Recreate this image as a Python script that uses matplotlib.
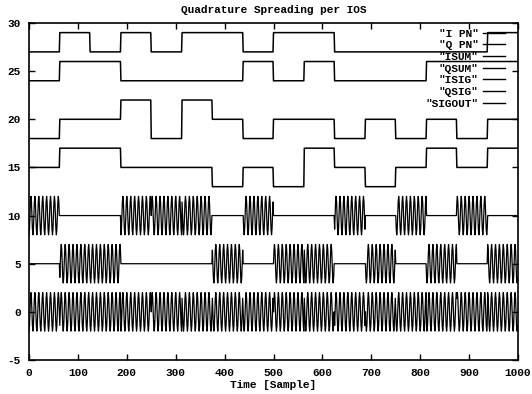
import numpy as np
import matplotlib
matplotlib.use("Agg")
import matplotlib.pyplot as plt

# ---- data ----
n_samples = 1000
chip_len = 62.5          # samples per chip (16 chips over 1000 samples)
carrier_period = 8       # samples per carrier cycle

i_pn  = [-1, 1, -1, 1, -1, 1, 1, -1, 1, 1, -1, -1, -1, -1, -1, 1]
q_pn  = [-1, 1, 1, -1, -1, -1, -1, 1, -1, 1, -1, -1, -1, 1, 1, 1]
i_sum = [-2, 0, 0, 2, -2, 2, 0, -2, 0, 0, -2, 0, -2, 0, -2, 0]
q_sum = [0, 2, 2, 0, 0, 0, -2, 0, -2, 2, 0, -2, 0, 2, 0, 2]

offsets = {"I PN": 28, "Q PN": 25, "ISUM": 20, "QSUM": 15,
           "ISIG": 10, "QSIG": 5, "SIGOUT": 0}

x_ticks = [0, 100, 200, 300, 400, 500, 600, 700, 800, 900, 1000]
y_ticks = [-5, 0, 5, 10, 15, 20, 25, 30]

# ---- build sample series ----
t = np.arange(n_samples)
chip = np.minimum((t // chip_len).astype(int), len(i_pn) - 1)
ipn_s = np.array(i_pn)[chip]
qpn_s = np.array(q_pn)[chip]
isum_s = np.array(i_sum)[chip]
qsum_s = np.array(q_sum)[chip]
phase = 2 * np.pi * t / carrier_period
isig_s = isum_s * np.cos(phase)
qsig_s = qsum_s * np.sin(phase)
sigout_s = isig_s + qsig_s

series = [
    ('"I PN"', ipn_s + offsets["I PN"], 1.1),
    ('"Q PN"', qpn_s + offsets["Q PN"], 1.1),
    ('"ISUM"', isum_s + offsets["ISUM"], 1.1),
    ('"QSUM"', qsum_s + offsets["QSUM"], 1.1),
    ('"ISIG"', isig_s + offsets["ISIG"], 0.9),
    ('"QSIG"', qsig_s + offsets["QSIG"], 0.9),
    ('"SIGOUT"', sigout_s + offsets["SIGOUT"], 0.9),
]

font = {"family": "Liberation Mono", "weight": "bold", "size": 8}
plt.rcParams["font.family"] = "Liberation Mono"
plt.rcParams["font.weight"] = "bold"

fig = plt.figure(figsize=(5.32, 3.94), dpi=100)
ax = fig.add_axes([29 / 532, 1 - 360 / 394, (518 - 29) / 532, (360 - 23) / 394])

for label, y, lw in series:
    ax.plot(t, y, color="black", lw=lw, label=label)

ax.set_xlim(0, 1000)
ax.set_ylim(-5, 30)
ax.set_xticks(x_ticks)
ax.set_yticks(y_ticks)
ax.set_xticklabels([str(v) for v in x_ticks], fontdict=font)
ax.set_yticklabels([str(v) for v in y_ticks], fontdict=font)
ax.tick_params(direction="in", length=4, width=1, top=True, right=True, pad=6)
for s in ax.spines.values():
    s.set_linewidth(1.2)

ax.set_title("Quadrature Spreading per IOS", fontdict=font, pad=7)
ax.set_xlabel("Time [Sample]", fontdict=font, labelpad=1)

leg = ax.legend(loc="upper right", bbox_to_anchor=(0.985, 1.0),
                frameon=False, markerfirst=False, handlelength=2.0,
                handletextpad=0.4, labelspacing=0.15, borderpad=0,
                prop={"family": "Liberation Mono", "weight": "bold", "size": 8})
for h in leg.get_lines():
    h.set_linewidth(1.0)

fig.savefig("out.png", dpi=100)
